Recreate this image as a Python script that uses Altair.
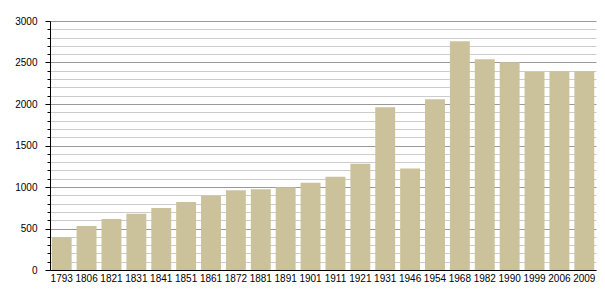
import altair as alt
import pandas as pd

years = ["1793", "1806", "1821", "1831", "1841", "1851", "1861", "1872", "1881", "1891",
         "1901", "1911", "1921", "1931", "1946", "1954", "1968", "1982", "1990", "1999",
         "2006", "2009"]
population = [393, 529, 613, 677, 746, 818, 894, 962, 974, 998,
              1050, 1123, 1279, 1961, 1223, 2057, 2755, 2538, 2502, 2386,
              2394, 2394]

minor_ticks = list(range(0, 3001, 100))

df = pd.DataFrame({"year": years, "pop": population})

bars = alt.Chart(df).mark_bar(color="#cbc29b").encode(
    x=alt.X("year:N", sort=years, title=None,
            scale=alt.Scale(paddingInner=0.2, paddingOuter=0.07),
            axis=alt.Axis(labelAngle=0, ticks=False, domainColor="#000000",
                          labelFont="Liberation Sans", labelFontSize=10,
                          labelColor="#000000", labelPadding=3, grid=False)),
    y=alt.Y("pop:Q", title=None,
            scale=alt.Scale(domain=[0, 3000], nice=False),
            axis=alt.Axis(values=minor_ticks,
                          labelExpr="datum.value % 500 === 0 ? datum.label : ''",
                          format="d",
                          grid=True,
                          gridColor={"condition": {"test": "datum.value % 500 === 0", "value": "#999999"},
                                     "value": "#cccccc"},
                          tickSize={"condition": {"test": "datum.value % 500 === 0", "value": 5},
                                    "value": 3},
                          tickColor="#000000", domainColor="#000000",
                          labelFont="Liberation Sans", labelFontSize=10,
                          labelColor="#000000", labelPadding=8,
                          labelFlush=False)),
)

chart = bars.properties(
    width=546, height=249,
    autosize=alt.AutoSizeParams(type="none"),
    padding={"left": 50, "top": 21, "right": 9, "bottom": 30},
).configure_view(stroke=None)

chart.save("out.html", embed_options={"renderer": "svg", "actions": False})
